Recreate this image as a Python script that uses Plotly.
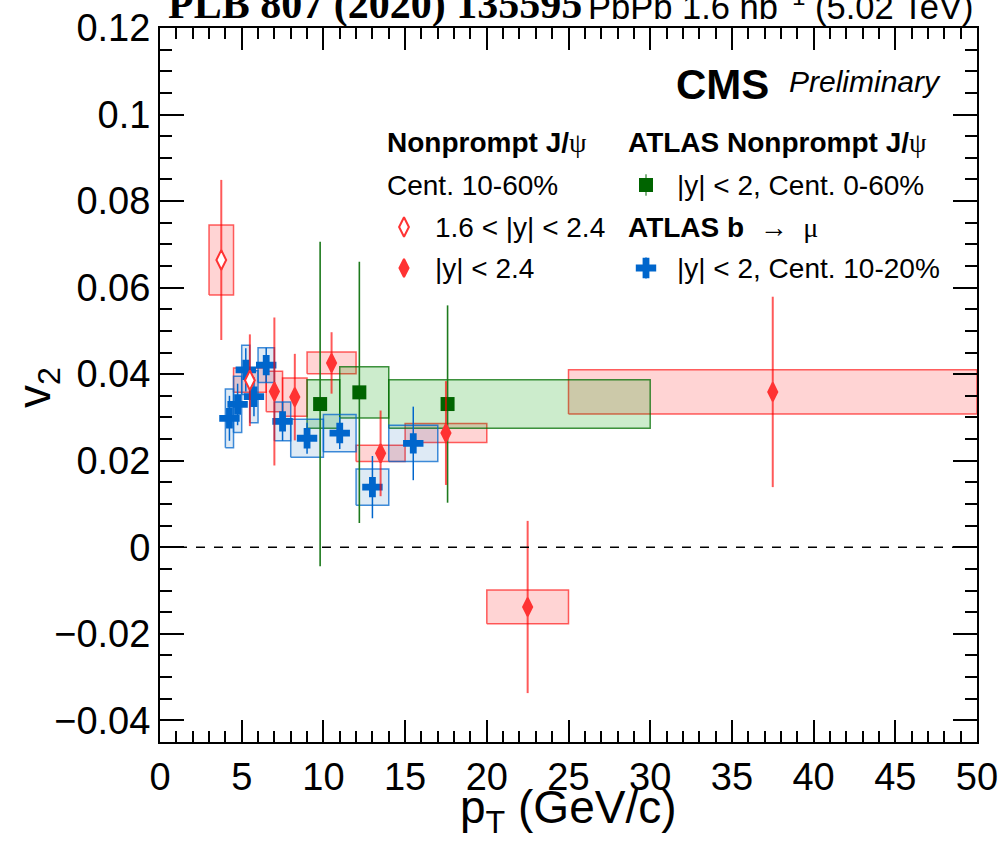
import plotly.graph_objects as go

# ---- CMS nonprompt J/psi, 1.6 < |y| < 2.4, Cent. 10-60% ----
cms_fwd_pt = [3.75, 5.5]
cms_fwd_lo = [3.0, 4.5]
cms_fwd_hi = [4.5, 6.5]
cms_fwd_v2 = [0.0664, 0.0386]
cms_fwd_stat = [0.0185, 0.0106]
cms_fwd_syst = [0.0081, 0.0028]

# ---- CMS nonprompt J/psi, |y| < 2.4, Cent. 10-60% ----
cms_pt = [7.0, 8.25, 10.5, 13.5, 17.5, 22.5, 37.5]
cms_lo = [6.5, 7.5, 9.0, 12.0, 15.0, 20.0, 25.0]
cms_hi = [7.5, 9.0, 12.0, 15.0, 20.0, 25.0, 50.0]
cms_v2 = [0.0360, 0.0347, 0.0426, 0.0217, 0.0264, -0.0138, 0.0359]
cms_stat = [0.0171, 0.0100, 0.0071, 0.0099, 0.0120, 0.0199, 0.0220]
cms_syst = [0.0047, 0.0044, 0.0025, 0.0019, 0.0022, 0.0039, 0.0051]

# ---- ATLAS nonprompt J/psi, |y| < 2, Cent. 0-60% ----
atl_pt = [9.8, 12.2, 17.6]
atl_lo = [9.0, 11.0, 14.0]
atl_hi = [11.0, 14.0, 30.0]
atl_v2 = [0.0331, 0.0358, 0.0331]
atl_stat = [0.0375, 0.0302, 0.0228]
atl_syst = [0.0056, 0.0059, 0.0056]

# ---- ATLAS b -> mu, |y| < 2, Cent. 10-20% ----
bmu_pt = [4.25, 4.75, 5.25, 5.75, 6.5, 7.5, 9.0, 11.0, 13.0, 15.5]
bmu_lo = [4.0, 4.5, 5.0, 5.5, 6.0, 7.0, 8.0, 10.0, 12.0, 14.0]
bmu_hi = [4.5, 5.0, 5.5, 6.0, 7.0, 8.0, 10.0, 12.0, 14.0, 17.0]
bmu_v2 = [0.0298, 0.0330, 0.0410, 0.0348, 0.0421, 0.0291, 0.0252, 0.0264, 0.0139, 0.0240]
bmu_stat = [0.0052, 0.0048, 0.0050, 0.0045, 0.0040, 0.0045, 0.0036, 0.0037, 0.0072, 0.0085]
bmu_syst = [0.0068, 0.0065, 0.0057, 0.0060, 0.0040, 0.0045, 0.0044, 0.0043, 0.0042, 0.0042]

y_tickvals = [-0.04, -0.02, 0.0, 0.02, 0.04, 0.06, 0.08, 0.1, 0.12]
y_ticktext = ["\u22120.04", "\u22120.02", "0", "0.02", "0.04", "0.06", "0.08", "0.1", "0.12"]

SANS = "Liberation Sans, Arial, Helvetica, sans-serif"
SERIF = "Liberation Serif, Times New Roman, serif"

RED = "#ff3333"
GREEN = "#006400"
BLUE = "#0066cc"

# frame of the plotting area, in page pixels
FRAME_L, FRAME_R, FRAME_T, FRAME_B = 160, 977, 28, 742


def greek(ch):
    return '<span style="font-family:Liberation Serif;font-weight:normal">' + ch + "</span>"


def syst_boxes(lo, hi, v2, syst, line_color, fill_color):
    xs, ys = [], []
    for a, b, v, s in zip(lo, hi, v2, syst):
        xs += [a, b, b, a, a, None]
        ys += [v - s, v - s, v + s, v + s, v - s, None]
    return go.Scatter(x=xs, y=ys, mode="lines", fill="toself",
                      fillcolor=fill_color,
                      line=dict(color=line_color, width=1.5),
                      hoverinfo="skip", showlegend=False)


def points(pt, v2, stat, symbol, size, color, err_color, fill=None, lw=0, ew=2):
    return go.Scatter(
        x=pt, y=v2, mode="markers",
        marker=dict(symbol=symbol, size=size, color=fill or color,
                    line=dict(color=color, width=lw)),
        error_y=dict(type="data", array=stat, visible=True,
                     color=err_color, thickness=ew, width=0),
        showlegend=False, cliponaxis=False)


fig = go.Figure()

# systematic uncertainty boxes
fig.add_trace(syst_boxes(cms_fwd_lo, cms_fwd_hi, cms_fwd_v2, cms_fwd_syst,
                         "rgba(255,0,0,0.62)", "rgba(255,0,0,0.17)"))
fig.add_trace(syst_boxes(cms_lo, cms_hi, cms_v2, cms_syst,
                         "rgba(255,0,0,0.62)", "rgba(255,0,0,0.17)"))
fig.add_trace(syst_boxes(atl_lo, atl_hi, atl_v2, atl_syst,
                         "rgba(0,110,0,0.75)", "rgba(0,160,0,0.2)"))
fig.add_trace(syst_boxes(bmu_lo, bmu_hi, bmu_v2, bmu_syst,
                         "rgba(0,102,204,0.75)", "rgba(0,90,180,0.13)"))

# points with statistical error bars
fig.add_trace(points(atl_pt, atl_v2, atl_stat, "square", 14, GREEN, "#1d7a1d", ew=1.6))
fig.add_trace(points(bmu_pt, bmu_v2, bmu_stat, "cross", 17, BLUE, BLUE, ew=1.5))
fig.add_trace(points(cms_pt, cms_v2, cms_stat, "diamond-tall", 13, RED,
                     "rgba(255,0,0,0.65)", lw=2))
fig.add_trace(points(cms_fwd_pt, cms_fwd_v2, cms_fwd_stat, "diamond-tall", 14, RED,
                     "rgba(255,0,0,0.65)", fill="white", lw=2))

# dashed zero line
fig.add_shape(type="line", xref="x domain", yref="y", x0=0, x1=1, y0=0, y1=0,
              line=dict(color="black", width=1.5, dash="dash"))


def px_to_paper(px, py):
    return ((px - FRAME_L) / float(FRAME_R - FRAME_L),
            (FRAME_B - py) / float(FRAME_B - FRAME_T))


# legend swatches on a hidden overlay axis spanning the frame
swatches = [
    ((404, 227), dict(symbol="diamond-tall", size=14, color="white",
                      line=dict(color=RED, width=2)), None),
    ((404, 268), dict(symbol="diamond-tall", size=13, color=RED,
                      line=dict(color=RED, width=2)), None),
    ((646, 185), dict(symbol="square", size=14, color=GREEN), GREEN),
    ((646, 268), dict(symbol="cross", size=17, color=BLUE), BLUE),
]
for (px, py), mk, ecol in swatches:
    sx, sy = px_to_paper(px, py)
    kw = {}
    if ecol:
        kw["error_y"] = dict(type="constant", value=0.015, color=ecol,
                             thickness=1, width=0)
    fig.add_trace(go.Scatter(x=[sx], y=[sy], xaxis="x2", yaxis="y2", mode="markers",
                             marker=mk, showlegend=False, cliponaxis=False, **kw))

annotations = []


def text(px, py, s, size, bold=False, italic=False, family=SANS, xanchor="left", angle=0):
    x, y = px_to_paper(px, py)
    if bold:
        s = "<b>" + s + "</b>"
    if italic:
        s = "<i>" + s + "</i>"
    annotations.append(dict(xref="paper", yref="paper", x=x, y=y, text=s,
                            showarrow=False, xanchor=xanchor, yanchor="middle",
                            textangle=angle,
                            font=dict(family=family, size=size, color="black")))


# header
text(166, 5, "PLB 807 (2020) 135595", 42, bold=True, family=SERIF)
text(976, 5, "PbPb 1.6 nb<sup>\u22121</sup> (5.02 TeV)", 34.5, xanchor="right")
# experiment label
text(674, 84, "CMS", 42, bold=True)
text(787, 82, "Preliminary", 30, italic=True)
# legend block
text(385, 142, "Nonprompt J/" + greek("\u03c8"), 28, bold=True)
text(385, 185, "Cent. 10-60%", 28)
text(433, 227, "1.6 < |y| < 2.4", 28)
text(433, 268, "|y| < 2.4", 28)
text(626, 142, "ATLAS Nonprompt J/" + greek("\u03c8"), 28, bold=True)
text(675, 185, "|y| < 2, Cent. 0-60%", 28)
text(626, 227, "<b>ATLAS b</b>  \u2192  " + greek("\u03bc"), 28)
text(675, 268, "|y| < 2, Cent. 10-20%", 28)
# axis titles
text(568, 810, "p<sub>T</sub> (GeV/c)", 46, xanchor="center")
text(37, 388, "v<sub>2</sub>", 46, xanchor="center", angle=-90)

fig.update_layout(
    width=1003, height=848,
    margin=dict(l=FRAME_L, r=1003 - FRAME_R, t=FRAME_T, b=848 - FRAME_B,
                autoexpand=False),
    paper_bgcolor="white", plot_bgcolor="white",
    font=dict(family=SANS, color="black"),
    annotations=annotations,
    xaxis=dict(range=[0, 50], tick0=0, dtick=5, ticks="inside", ticklen=22,
               tickwidth=1.5, tickcolor="black", showline=True, linecolor="black",
               linewidth=2, mirror="ticks", showgrid=False, zeroline=False,
               automargin=False,
               tickfont=dict(size=38, family=SANS),
               minor=dict(dtick=1, ticks="inside", ticklen=11, tickwidth=1.5,
                          tickcolor="black", showgrid=False)),
    yaxis=dict(range=[-0.045, 0.12], tickvals=y_tickvals, ticktext=y_ticktext,
               ticks="inside", ticklen=24, tickwidth=1.5, tickcolor="black",
               showline=True, linecolor="black", linewidth=2, mirror="ticks",
               showgrid=False, zeroline=False, automargin=False,
               tickfont=dict(size=38, family=SANS),
               minor=dict(tickvals=[v / 1000 for v in range(-45, 121, 5)],
                          ticks="inside", ticklen=12, tickwidth=1.5,
                          tickcolor="black", showgrid=False)),
    xaxis2=dict(overlaying="x", range=[0, 1], visible=False, automargin=False),
    yaxis2=dict(overlaying="y", range=[0, 1], visible=False, automargin=False),
)

fig.write_html("out.html")
